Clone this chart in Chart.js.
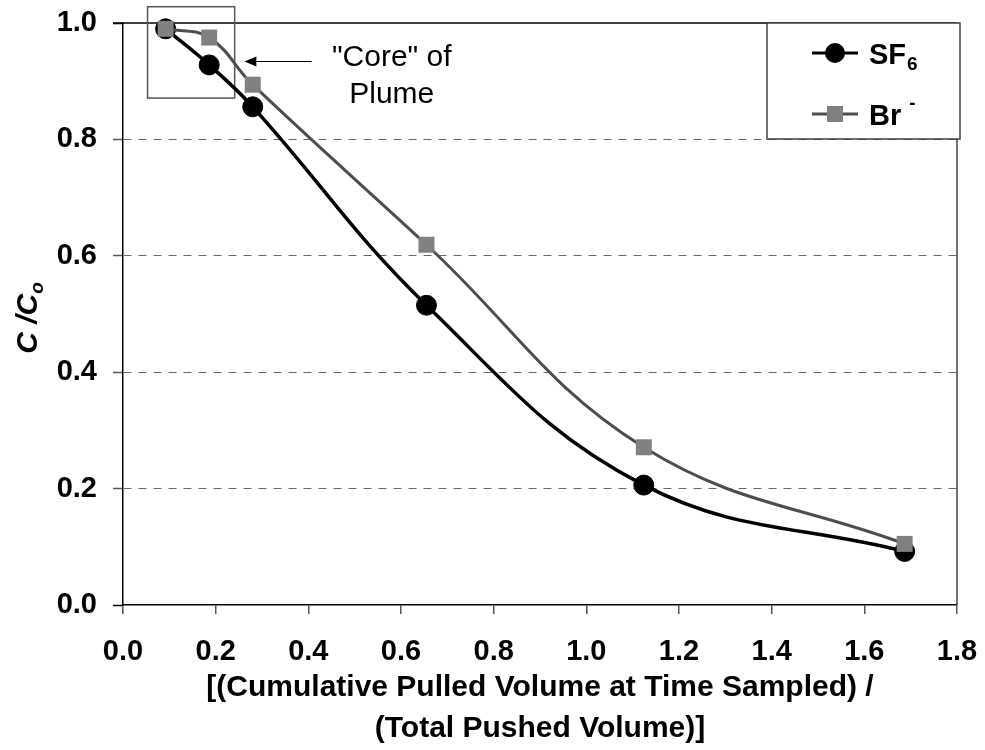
<!DOCTYPE html>
<html>
<head>
<meta charset="utf-8">
<script src="https://cdn.jsdelivr.net/npm/chart.js@4/dist/chart.umd.min.js"></script>
<style>
  html, body { margin: 0; padding: 0; background: #fff; }
</style>
</head>
<body>
<canvas id="plumeChart" width="985" height="750"></canvas>
<script>
// pulled / pushed volume ratio at each sample
const volumeRatio = [0.092, 0.186, 0.280, 0.655, 1.124, 1.687];
// C/Co for each tracer
const sf6Values = [0.99, 0.928, 0.856, 0.515, 0.206, 0.092];
const brValues = [0.99, 0.975, 0.894, 0.619, 0.271, 0.105];

const xTicks = { min: 0, max: 1.8, step: 0.2 };
const yTicks = { min: 0, max: 1.0, step: 0.2 };

// "Core" of Plume note, in data units
const coreBoxX = [0.053, 0.241];
const coreBoxY = [0.871, 1.028];
const arrowX = [0.407, 0.262];
const arrowY = 0.934;
const noteLines = ['"Core" of', 'Plume'];
const noteX = 0.58;
const noteY = [0.94, 0.876];

const FONT = '"Liberation Sans", Arial, sans-serif';

const toPoints = (ys) => volumeRatio.map((v, i) => ({ x: v, y: ys[i] }));

const isEdge = (v) => Math.abs(v) < 1e-6 || Math.abs(v - 1) < 1e-6;

const decorations = {
  id: 'decorations',
  beforeDatasetsDraw(chart) {
    const { ctx, chartArea: a, scales: { x, y } } = chart;
    ctx.save();
    // plot area top + right edges
    ctx.lineWidth = 1.5;
    ctx.strokeStyle = '#000';
    ctx.beginPath();
    ctx.moveTo(a.left - 10, a.top);
    ctx.lineTo(a.right, a.top);
    ctx.stroke();
    ctx.strokeStyle = '#404040';
    ctx.beginPath();
    ctx.moveTo(a.right, a.top);
    ctx.lineTo(a.right, a.bottom);
    ctx.stroke();

    // core box
    const bx1 = x.getPixelForValue(coreBoxX[0]);
    const bx2 = x.getPixelForValue(coreBoxX[1]);
    const by1 = y.getPixelForValue(coreBoxY[1]);
    const by2 = y.getPixelForValue(coreBoxY[0]);
    ctx.strokeStyle = '#555';
    ctx.lineWidth = 1.5;
    ctx.strokeRect(bx1, by1, bx2 - bx1, by2 - by1);
    ctx.restore();
  },
  afterDatasetsDraw(chart) {
    const { ctx, chartArea: a, scales: { x, y } } = chart;
    ctx.save();

    // arrow
    const ax1 = x.getPixelForValue(arrowX[0]);
    const ax2 = x.getPixelForValue(arrowX[1]);
    const ay = Math.round(y.getPixelForValue(arrowY)) + 0.5;
    ctx.strokeStyle = '#000';
    ctx.fillStyle = '#000';
    ctx.lineWidth = 1;
    ctx.beginPath();
    ctx.moveTo(ax1, ay);
    ctx.lineTo(ax2 + 8, ay);
    ctx.stroke();
    ctx.beginPath();
    ctx.moveTo(ax2, ay);
    ctx.lineTo(ax2 + 12, ay - 5);
    ctx.lineTo(ax2 + 12, ay + 5);
    ctx.closePath();
    ctx.fill();

    // note text
    ctx.font = '30px ' + FONT;
    ctx.textAlign = 'center';
    ctx.textBaseline = 'middle';
    noteLines.forEach((t, i) => {
      ctx.fillText(t, x.getPixelForValue(noteX), y.getPixelForValue(noteY[i]));
    });

    // legend
    const lx = a.right - 190, ly = a.top, lw = 193, lh = 116;
    ctx.fillStyle = '#fff';
    ctx.fillRect(lx, ly, lw, lh);
    ctx.strokeStyle = '#404040';
    ctx.lineWidth = 1.5;
    ctx.strokeRect(lx, ly, lw, lh);

    const markX = lx + 68;
    // SF6 entry
    let ey = ly + 30;
    ctx.strokeStyle = '#000';
    ctx.lineWidth = 3;
    ctx.beginPath();
    ctx.moveTo(markX - 23, ey);
    ctx.lineTo(markX + 23, ey);
    ctx.stroke();
    ctx.fillStyle = '#000';
    ctx.beginPath();
    ctx.arc(markX, ey, 10, 0, Math.PI * 2);
    ctx.fill();

    ctx.textAlign = 'left';
    ctx.textBaseline = 'alphabetic';
    ctx.font = 'bold 29px ' + FONT;
    ctx.fillText('SF', lx + 102, ey + 11);
    const sfW = ctx.measureText('SF').width;
    ctx.font = 'bold 19px ' + FONT;
    ctx.fillText('6', lx + 102 + sfW + 1, ey + 17);

    // Br- entry
    ey = ly + 91;
    ctx.strokeStyle = '#4d4d4d';
    ctx.lineWidth = 3;
    ctx.beginPath();
    ctx.moveTo(markX - 23, ey);
    ctx.lineTo(markX + 23, ey);
    ctx.stroke();
    ctx.fillStyle = '#808080';
    ctx.fillRect(markX - 8, ey - 8, 16, 16);

    ctx.fillStyle = '#000';
    ctx.font = 'bold 29px ' + FONT;
    ctx.fillText('Br', lx + 102, ey + 11);
    const brW = ctx.measureText('Br').width;
    ctx.font = 'bold 19px ' + FONT;
    ctx.fillText('-', lx + 102 + brW + 8, ey - 5);

    ctx.restore();
  },
  afterDraw(chart) {
    const { ctx, chartArea: a } = chart;
    // y axis title C/Co, rotated, with subscript
    ctx.save();
    ctx.translate(37, (a.top + a.bottom) / 2 + 4);
    ctx.rotate(-Math.PI / 2);
    ctx.fillStyle = '#000';
    ctx.textBaseline = 'alphabetic';
    ctx.font = 'italic bold 30px ' + FONT;
    const main = 'C /C';
    const mw = ctx.measureText(main).width;
    ctx.font = 'italic bold 19px ' + FONT;
    const sw = ctx.measureText('o').width;
    const start = -(mw + sw) / 2;
    ctx.font = 'italic bold 30px ' + FONT;
    ctx.textAlign = 'left';
    ctx.fillText(main, start, 0);
    ctx.font = 'italic bold 19px ' + FONT;
    ctx.fillText('o', start + mw, 6);
    ctx.restore();
  }
};

new Chart(document.getElementById('plumeChart'), {
  type: 'line',
  data: {
    datasets: [
      {
        label: 'SF6',
        data: toPoints(sf6Values),
        borderColor: '#000',
        borderWidth: 3.5,
        backgroundColor: '#000',
        pointStyle: 'circle',
        pointRadius: 10,
        pointBackgroundColor: '#000',
        pointBorderColor: '#000',
        pointBorderWidth: 1,
        tension: 0.4,
        clip: false,
        order: 1,
      },
      {
        label: 'Br-',
        data: toPoints(brValues),
        borderColor: '#4d4d4d',
        borderWidth: 3,
        backgroundColor: '#808080',
        pointStyle: 'rect',
        pointRadius: 11.3,
        pointBackgroundColor: '#808080',
        pointBorderColor: '#808080',
        pointBorderWidth: 0,
        tension: 0.4,
        clip: false,
        order: 0,
      },
    ],
  },
  options: {
    responsive: false,
    animation: false,
    layout: { padding: { top: 23, right: 28, left: 0, bottom: 0 } },
    scales: {
      x: {
        type: 'linear',
        min: xTicks.min,
        max: xTicks.max,
        afterFit: (scale) => {
          scale.height = 145;
          scale.paddingLeft = 0;
          scale.paddingRight = 0;
        },
        ticks: {
          stepSize: xTicks.step,
          padding: 21,
          color: '#000',
          font: { family: FONT, size: 29, weight: 'bold' },
          callback: (v) => v.toFixed(1),
          maxRotation: 0,
        },
        grid: {
          drawOnChartArea: false,
          tickLength: 9,
          tickColor: '#555',
          lineWidth: 1.5,
        },
        border: { color: '#000', width: 1.5 },
        title: {
          display: true,
          text: ['[(Cumulative Pulled Volume at Time Sampled) /', '(Total Pushed Volume)]'],
          color: '#000',
          font: { family: FONT, size: 30, weight: 'bold', lineHeight: 41 / 30 },
          padding: { top: 0, bottom: 1 },
        },
      },
      y: {
        type: 'linear',
        min: yTicks.min,
        max: yTicks.max,
        afterFit: (scale) => {
          scale.width = 123;
          scale.paddingTop = 0;
          scale.paddingBottom = 0;
        },
        ticks: {
          stepSize: yTicks.step,
          padding: 16,
          color: '#000',
          font: { family: FONT, size: 29, weight: 'bold' },
          callback: (v) => v.toFixed(1),
        },
        grid: {
          tickLength: 10,
          color: (c) => (c.tick && isEdge(c.tick.value) ? 'rgba(0,0,0,0)' : '#666'),
          tickColor: (c) => (c.tick && isEdge(c.tick.value) ? '#000' : '#555'),
          tickWidth: 1.5,
          lineWidth: 1,
        },
        border: { color: '#000', width: 1.5, dash: [8, 7] },
      },
    },
    plugins: {
      legend: { display: false },
      tooltip: { enabled: false },
    },
  },
  plugins: [decorations],
});
</script>
</body>
</html>
